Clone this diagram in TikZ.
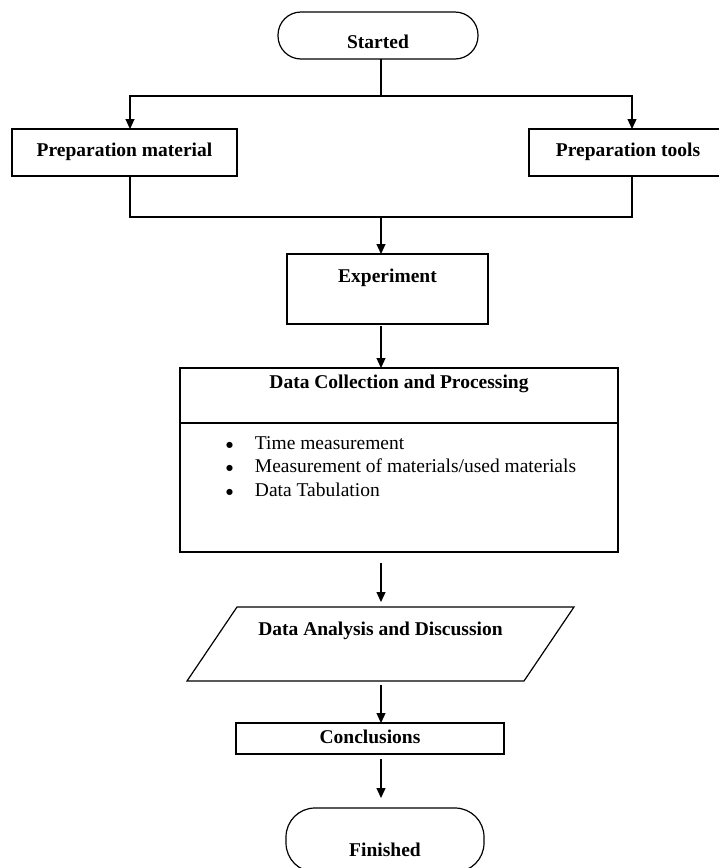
\documentclass[tikz,border=0pt]{standalone}
\usepackage{fontspec}
\setmainfont{Liberation Serif}
\newfontfamily\symfont{DejaVu Sans}
\usetikzlibrary{arrows.meta}
\newcommand{\bigbul}{\raisebox{2pt}{\fontsize{8}{8}\selectfont\symfont ●}}
\begin{document}
\begin{tikzpicture}[x=1pt,y=-1pt,
  every node/.style={inner sep=0pt, outer sep=0pt},
  box/.style={draw, line width=1.2pt, font=\fontsize{19.5}{23.5}\selectfont\bfseries},
  term/.style={box},
  plain/.style={font=\fontsize{19.5}{23.5}\selectfont},
  line/.style={line width=1.2pt},
  arr/.style={line, -{Triangle[length=10pt,width=9pt]}},
]
\useasboundingbox (0,0) rectangle (719,868);
\clip (0,0) rectangle (719,868);

\node[term, rounded corners=23pt, minimum width=200pt, text height=36pt, text depth=11pt, anchor=north] (start) at (378,12) {Started};
\node[box, minimum width=225pt, text height=27pt, text depth=20pt, anchor=north] (pm) at (124.5,129) {Preparation material};
\node[box, minimum width=198pt, text height=27pt, text depth=20pt, anchor=north] (pt) at (628,129) {Preparation tools};
\node[box, minimum width=201pt, text height=28pt, text depth=42pt, anchor=north] (exp) at (387.5,254) {Experiment};

\node[box, minimum width=438pt, minimum height=184pt, anchor=north] (data) at (399,368) {};
\node[box, draw=none, anchor=base] (dtitle) at (399,388) {Data Collection and Processing};
\path (data.north west) ++(0,55) coordinate (dl);
\path (data.north east) ++(0,55) coordinate (dr);
\draw[line] (dl) -- (dr);
\node[plain, anchor=base west] (dlist) at (226,449) {\begin{tabular}[t]{@{}l@{\hspace{22pt}}l@{}}
\bigbul & Time measurement\\
\bigbul & Measurement of materials/used materials\\
\bigbul & Data Tabulation
\end{tabular}};

\node[box, draw=none, minimum width=337pt, text height=28pt, text depth=46pt, anchor=north] (para) at (380.5,607) {Data Analysis and Discussion};
\draw[line, line join=miter] ([xshift=25pt]para.north west) -- ([xshift=25pt]para.north east) -- ([xshift=-25pt]para.south east) -- ([xshift=-25pt]para.south west) -- cycle;

\node[box, minimum width=268pt, text height=20pt, text depth=11pt, anchor=north] (conc) at (370,723) {Conclusions};
\node[term, rounded corners=29pt, minimum width=198pt, text height=48pt, text depth=16pt, anchor=north] (fin) at (385,808) {Finished};

\coordinate (jt) at (381,96);
\coordinate (jl) at (130,96);
\coordinate (jr) at (632,96);
\coordinate (jb) at (381,217);
\coordinate (jbl) at (130,217);
\coordinate (jbr) at (632,217);

\draw[line] (start.south -| jt) -- (jt);
\draw[arr] (jt) -- (jl) -- (pm.north -| jl);
\draw[arr] (jt) -- (jr) -- (pt.north -| jr);
\draw[line] (pm.south -| jbl) -- (jbl) -- (jbr) -- (pt.south -| jbr);
\draw[arr] (jb) -- (exp.north -| jb);
\draw[arr, shorten <=2pt] (exp.south -| jb) -- (data.north -| jb);
\draw[arr, shorten <=11pt, shorten >=5pt] (data.south -| jb) -- (para.north -| jb);
\draw[arr, shorten <=4pt] (para.south -| jb) -- (conc.north -| jb);
\draw[arr, shorten <=5pt, shorten >=10pt] (conc.south -| jb) -- (fin.north -| jb);
\end{tikzpicture}
\end{document}
